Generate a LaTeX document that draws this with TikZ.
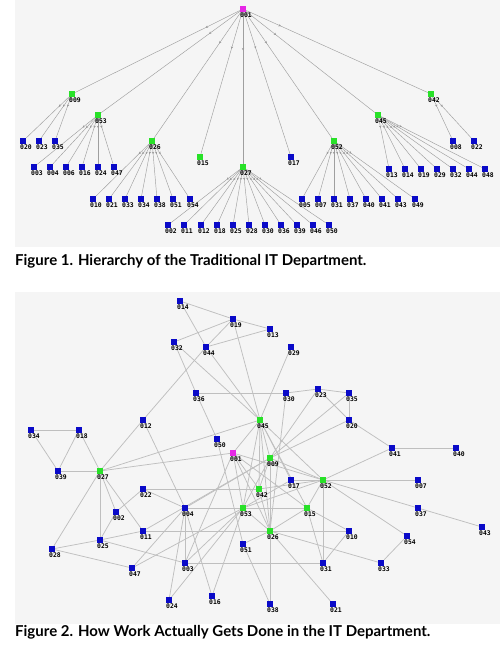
\documentclass[tikz,border=0pt]{standalone}
\usepackage{fontspec}
\newfontfamily\lblfont{DejaVu Sans Mono}
\newfontfamily\capfont{Lato}
\usetikzlibrary{arrows.meta, decorations.markings, backgrounds}
\definecolor{bossmag}{RGB}{230,40,230}
\definecolor{leadgreen}{RGB}{40,225,40}
\definecolor{staffblue}{RGB}{10,10,200}
\definecolor{panelgray}{RGB}{245,245,245}

\tikzset{
    sq/.style={rectangle, inner sep=0pt, minimum size=6pt},
    boss/.style={sq, fill=bossmag},
    lead/.style={sq, fill=leadgreen},
    staff/.style={sq, fill=staffblue},
    lbl/.style={font=\lblfont\bfseries\fontsize{6.4}{6.4}\selectfont, inner sep=0.7pt, xshift=3pt},
    tree/.style={draw=gray!75, line width=0.45pt},
    tick/.style={postaction={decorate, decoration={markings,
        mark=at position #1 with {\arrow[gray!80]{Stealth[length=2.2pt, width=2.4pt]}}}}},
    web/.style={draw=gray!50, line width=0.75pt},
    caption/.style={font=\capfont\bfseries\fontsize{15}{17}\selectfont, anchor=west, inner sep=0pt},
}

\begin{document}
\begin{tikzpicture}[x=1pt, y=-1pt]
    \useasboundingbox (0,0) rectangle (500,671);
    \begin{scope}[on background layer]
        \fill[panelgray] (15,0) rectangle (500,247);
        \fill[panelgray] (15,292) rectangle (500,624);
    \end{scope}

    % Figure 1: the chart
    \node[boss, label={[lbl]below:001}] (h001) at (243,9) {};
    \foreach \n/\x/\y in {009/72/94, 053/98/115, 026/152/141, 015/200/157, 027/243/167,
                          052/334/141, 045/378/115, 042/431/94}
        \node[lead, label={[lbl]below:\n}] (h\n) at (\x,\y) {};
    \node[staff, label={[lbl]below:017}] (h017) at (291,157) {};
    \foreach \p/\py/\ly/\kids in {
        009/94/141/{020/23,023/39,035/55},
        053/115/167/{003/34,004/50,006/66,016/82,024/98,047/114},
        026/141/199/{010/93,021/109,033/125,034/141,038/157,051/173,054/190},
        027/167/225/{002/168,011/184,012/201,018/217,025/233,028/249,030/265,036/281,039/297,046/313,050/329},
        052/141/199/{005/302,007/318,031/334,037/350,040/366,041/382,043/398,049/415},
        045/115/169/{013/389,014/405,019/421,029/437,032/453,044/469,048/485},
        042/94/141/{008/453,022/474}}{
        \pgfmathsetmacro\fr{11/(\ly-\py)}
        \foreach \k/\kx in \kids {
            \node[staff, label={[lbl]below:\k}] (h\k) at (\kx,\ly) {};
            \begin{scope}[on background layer]
                \draw[tree, tick=\fr] (h\p) -- (h\k);
            \end{scope}
        }
    }
    \begin{scope}[on background layer]
        \foreach \n in {009,053,026,015,027,017,052,045,042}
            \draw[tree, tick=38pt] (h001) -- (h\n);
    \end{scope}
    \node[caption] (cap1) at (15,261) {Figure 1. Hierarchy of the Traditional IT Department.};

    % Figure 2: the real network
    \node[boss, label={[lbl]below:001}] (n001) at (233,453) {};
    \foreach \n/\x/\y in {045/260/420, 009/270/458, 027/100/471, 042/259/489, 053/243/508,
                          052/323/480, 015/307/508, 026/270/531}
        \node[lead, label={[lbl]below:\n}] (n\n) at (\x,\y) {};
    \foreach \n/\x/\y in {014/180/301, 019/233/319, 013/270/329, 032/174/342, 044/206/347,
                          029/291/347, 036/196/393, 030/286/393, 023/318/389, 035/349/393,
                          020/349/420, 012/143/420, 050/217/439, 034/31/430, 018/79/430,
                          039/58/471, 022/143/489, 004/185/508, 002/116/512, 011/143/531,
                          051/243/544, 025/100/540, 028/52/549, 003/185/563, 047/132/568,
                          017/291/480, 010/349/531, 041/392/448, 040/456/448, 007/418/480,
                          037/418/508, 043/482/527, 054/407/536, 031/323/563, 033/381/563,
                          024/169/600, 016/212/596, 038/270/604, 021/333/604}
        \node[staff, label={[lbl]below:\n}] (n\n) at (\x,\y) {};
    \begin{scope}[on background layer]
        \foreach \a/\b in {014/019, 014/044, 019/032, 019/044, 019/013, 013/044, 019/045,
                           029/045, 032/036, 032/045, 044/012, 044/045, 036/030, 036/050,
                           030/023, 023/035, 035/020, 023/020, 030/026, 023/009, 035/009,
                           020/009, 020/041, 041/040, 034/018, 034/039, 018/039, 018/027,
                           039/027, 027/012, 027/001, 027/045, 027/002, 027/025, 027/011,
                           027/028, 002/022, 002/025, 022/004, 022/042, 012/004, 004/053,
                           004/047, 004/003, 004/024, 004/016, 004/009, 011/025, 011/026,
                           026/010, 003/031, 025/003, 028/025, 028/047, 047/053, 011/009,
                           050/051, 051/038, 051/026, 026/038, 026/021, 026/033, 053/015,
                           053/026, 053/045, 053/001, 053/009, 053/052, 053/003, 053/016,
                           053/024, 053/017, 045/026, 045/042, 045/015, 045/052, 045/009,
                           045/001, 001/026, 001/042, 001/052, 001/015, 001/003, 009/052,
                           009/026, 009/042, 052/007, 052/037, 052/054, 052/031, 052/015,
                           052/017, 052/042, 052/041, 015/031, 015/026, 015/010, 010/031,
                           054/033, 037/043, 017/045, 042/026}
            \draw[web] (n\a) -- (n\b);
    \end{scope}
    \node[caption] (cap2) at (15,632) {Figure 2. How Work Actually Gets Done in the IT Department.};
\end{tikzpicture}
\end{document}
